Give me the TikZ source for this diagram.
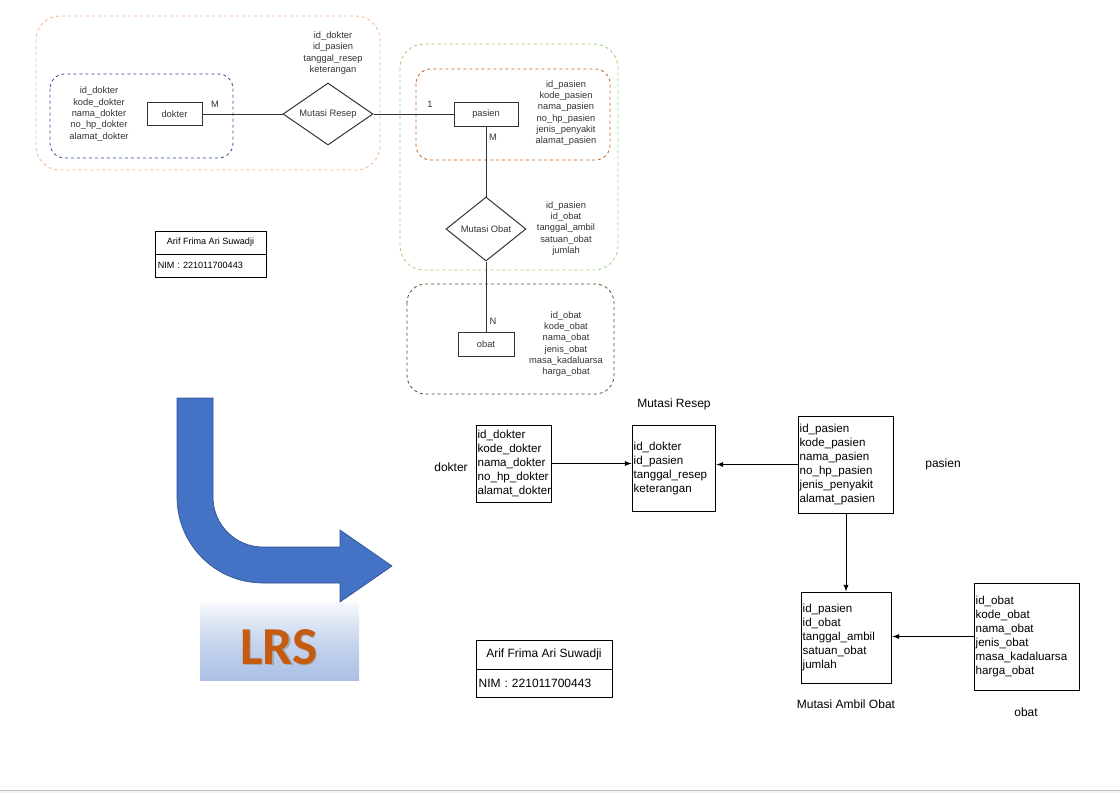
\documentclass[tikz,border=0pt]{standalone}
\usepackage{fontspec}
\setmainfont{Liberation Sans}
\newfontfamily\lrsfont{Carlito}
\usepackage{tikz}
\usetikzlibrary{shapes.geometric}

\definecolor{orgpale}{HTML}{F4B183}
\definecolor{bluedk}{HTML}{2B4A9A}
\definecolor{grnpale}{HTML}{97D077}
\definecolor{orgdk}{HTML}{C7601A}
\definecolor{grndk}{HTML}{2E5E1F}
\definecolor{arrblue}{HTML}{4472C4}
\definecolor{arredge}{HTML}{2F528F}
\definecolor{lrsorange}{HTML}{C55A11}

\tikzset{
  entity/.style={draw=black!80, line width=0.75pt, minimum width=#1, minimum height=17pt, font=\fontsize{7}{8.6}\selectfont, text=black!80},
  relasi/.style={draw=black!80, line width=0.75pt, diamond, aspect=1.4, inner sep=0pt, font=\fontsize{7}{8.6}\selectfont, text=black!80},
  atribut/.style={align=center, font=\fontsize{7}{8.5}\selectfont, text=black!80},
  kardinal/.style={font=\fontsize{7}{8.6}\selectfont, text=black!80},
  grup/.style={dashed, dash pattern=on 2.25pt off 2.25pt, line width=0.6pt},
  tabel/.style={draw, line width=0.75pt, align=left, inner xsep=1.2pt, inner ysep=0pt, text width=#1, font=\fontsize{8.7}{10.5}\selectfont},
  judul/.style={font=\fontsize{9}{10.5}\selectfont}
}

\begin{document}
\begin{tikzpicture}[x=0.75pt,y=-0.75pt]
\useasboundingbox (0,0) rectangle (1120,793);
\fill [black!4] (0,790) rectangle (1120,793);
\draw [black!25, line width=0.8pt] (0,790.5)--(1120,790.5);

% ER diagram
\draw [grup, orgpale, rounded corners=18pt] (36,16) rectangle (380,170);
\draw [grup, bluedk, rounded corners=11pt] (50,74) rectangle (233,158);
\draw [grup, grnpale, rounded corners=18pt] (400,44) rectangle (618,270);
\draw [grup, orgdk, rounded corners=11pt] (416,69) rectangle (610,160);
\draw [grup, grndk, rounded corners=14pt] (407,284) rectangle (614,394);

\node [entity=41.25pt] (dokter) at (174.5,114) {dokter};
\node [relasi, minimum width=67.5pt, minimum height=46.5pt] (resep) at (328,114) {Mutasi Resep};
\node [entity=48pt, minimum height=18pt] (pasien) at (486,114) {pasien};
\node [relasi, minimum width=60pt, minimum height=48pt] (ambil) at (486,229) {Mutasi Obat};
\node [entity=42pt, minimum height=18pt] (obat) at (486,344) {obat};

\draw [black!80, line width=0.75pt] (dokter)--(resep);
\draw [black!80, line width=0.75pt] (resep)--(pasien);
\draw [black!80, line width=0.75pt] (pasien)--(ambil);
\draw [black!80, line width=0.75pt] (ambil)--(obat);

\node [kardinal] at (215,104) {M};
\node [kardinal] at (430,104) {1};
\node [kardinal] at (493,137) {M};
\node [kardinal] at (493,321) {N};

\node [atribut] (atrdokter) at (99,114) {id\_dokter\\kode\_dokter\\nama\_dokter\\no\_hp\_dokter\\alamat\_dokter};
\node [atribut] (atrresep) at (333,53) {id\_dokter\\id\_pasien\\tanggal\_resep\\keterangan};
\node [atribut] (atrpasien) at (566,113) {id\_pasien\\kode\_pasien\\nama\_pasien\\no\_hp\_pasien\\jenis\_penyakit\\alamat\_pasien};
\node [atribut] (atrambil) at (566,228.5) {id\_pasien\\id\_obat\\tanggal\_ambil\\satuan\_obat\\jumlah};
\node [atribut] (atrobat) at (566,344) {id\_obat\\kode\_obat\\nama\_obat\\jenis\_obat\\masa\_kadaluarsa\\harga\_obat};

% nama
\node [draw, line width=0.75pt, minimum width=83.25pt, minimum height=17.25pt, font=\fontsize{6.8}{8.6}\selectfont] (nama1) at (210.5,242.5) {Arif Frima Ari Suwadji};
\node [draw, line width=0.75pt, minimum width=83.25pt, minimum height=17.25pt, font=\fontsize{6.8}{8.6}\selectfont, align=left, text width=79pt, inner xsep=2pt] (nim1) at (210.5,265.5) {NIM : 221011700443};

% panah LRS
\filldraw [fill=arrblue, draw=arredge, line width=0.5pt] (177,398)--(213,398)--(213,497) .. controls (213,524.6) and (235.4,547) .. (263,547)--(340,547)--(340,530)--(392,566)--(340,602)--(340,583)--(263,583) .. controls (215.5,583) and (177,544.5) .. (177,497)--cycle;
\shade [top color=white!95!arrblue, bottom color=arrblue!45, middle color=arrblue!30] (200,603) rectangle (359,680);
\node [text=black!35, font=\lrsfont\bfseries\fontsize{40}{40}\selectfont] at (280.5,648.5) {LRS};
\node [text=lrsorange, font=\lrsfont\bfseries\fontsize{40}{40}\selectfont] (lrs) at (279,647) {LRS};

% LRS tabel
\node [tabel=54.5pt, minimum height=57.75pt] (tdokter) at (514,463.5) {id\_dokter\\kode\_dokter\\nama\_dokter\\no\_hp\_dokter\\alamat\_dokter};
\node [tabel=60.5pt, minimum height=64.5pt] (tresep) at (674,468) {id\_dokter\\id\_pasien\\tanggal\_resep\\keterangan};
\node [tabel=69.5pt, minimum height=72.75pt] (tpasien) at (846,464.5) {id\_pasien\\kode\_pasien\\nama\_pasien\\no\_hp\_pasien\\jenis\_penyakit\\alamat\_pasien};
\node [tabel=65.75pt, minimum height=68.25pt] (tambil) at (846.5,637.5) {id\_pasien\\id\_obat\\tanggal\_ambil\\satuan\_obat\\jumlah};
\node [tabel=77pt, minimum height=80.25pt] (tobat) at (1027,636.5) {id\_obat\\kode\_obat\\nama\_obat\\jenis\_obat\\masa\_kadaluarsa\\harga\_obat};

\draw [-latex, line width=0.75pt] (tdokter.east)--(tdokter.east -| tresep.west);
\draw [-latex, line width=0.75pt] (tpasien.west)--(tpasien.west -| tresep.east);
\draw [-latex, line width=0.75pt] (tpasien.south)--(tpasien.south |- tambil.north);
\draw [-latex, line width=0.75pt] (tobat.west)--(tobat.west -| tambil.east);

\node [judul] at (674,404) {Mutasi Resep};
\node [judul] at (451,467) {dokter};
\node [judul] at (943,464) {pasien};
\node [judul] at (846,704) {Mutasi Ambil Obat};
\node [judul] at (1026,712) {obat};

\node [draw, line width=0.75pt, minimum width=102pt, minimum height=21.75pt, font=\fontsize{9}{10.5}\selectfont] (nama2) at (544,654.5) {Arif Frima Ari Suwadji};
\node [draw, line width=0.75pt, minimum width=102pt, minimum height=21pt, font=\fontsize{9}{10.5}\selectfont, align=left, text width=98pt, inner xsep=2pt] (nim2) at (544,683) {NIM : 221011700443};
\end{tikzpicture}
\end{document}
